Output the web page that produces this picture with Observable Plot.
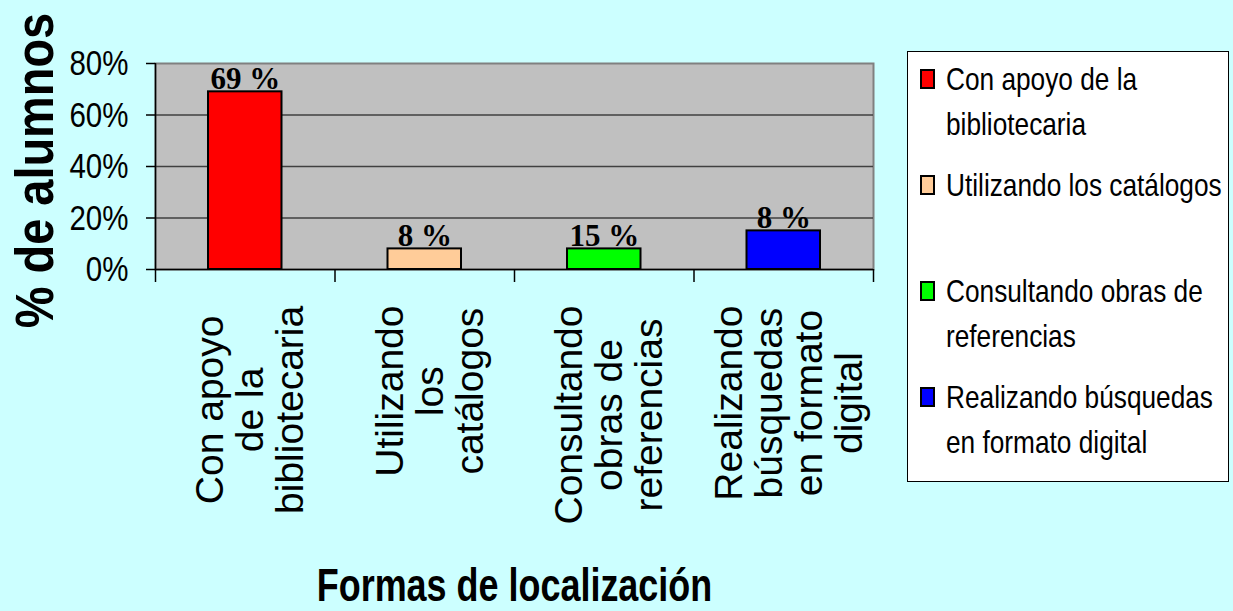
<!DOCTYPE html>
<html>
<head>
<meta charset="utf-8">
<script src="https://cdn.jsdelivr.net/npm/d3@7"></script>
<script src="https://cdn.jsdelivr.net/npm/@observablehq/plot@0.6"></script>
<style>
  html, body { margin: 0; padding: 0; background: #CCFFFF; color: #000; }
  #wrap { position: relative; width: 1233px; height: 611px; overflow: hidden; }
  #chart { position: absolute; left: 0; top: 0; }
  #legend {
    position: absolute; left: 907px; top: 51px; width: 322px; height: 431px;
    background: #fff; border: 1px solid #000; box-sizing: border-box; padding-top: 5px;
  }
  .entry {
    position: relative; height: 106px; padding-left: 38px; box-sizing: border-box;
    font-family: "Liberation Sans", Arial, sans-serif;
    font-size: 32px; line-height: 45px; color: #000; width: 320px; white-space: nowrap;
  }
  .entry .txt {
    display: inline-block; width: 345px; white-space: normal;
    transform: scaleX(0.82); transform-origin: 0 0;
  }
  .sw { position: absolute; left: 12px; top: 12px; width: 11px; height: 16px; border: 2px solid #000; }
</style>
</head>
<body>
<div id="wrap">
  <div id="chart"></div>
  <div id="legend"></div>
</div>
<script>
const categories = [
  "Con apoyo de la bibliotecaria",
  "Utilizando los catálogos",
  "Consultando obras de referencias",
  "Realizando búsquedas en formato digital"
];
const axisLabels = [
  "Con apoyo\nde la\nbibliotecaria",
  "Utilizando\nlos\ncatálogos",
  "Consultando\nobras de\nreferencias",
  "Realizando\nbúsquedas\nen formato\ndigital"
];
const values = [69, 8, 8, 15];
const valueLabels = ["69 %", "8 %", "15 %", "8 %"];
const colors = ["#FF0000", "#FFCC99", "#00FF00", "#0000FF"];
const yTicks = [0, 20, 40, 60, 80];
const yTitle = "% de alumnos";
const xTitle = "Formas de localización";

const data = categories.map((c, i) => ({
  i, cat: c, label: axisLabels[i], value: values[i], text: valueLabels[i], color: colors[i]
}));

const sans = "'Liberation Sans', Arial, sans-serif";

const chart = Plot.plot({
  width: 900,
  height: 611,
  marginLeft: 155,
  marginRight: 27,
  marginTop: 63,
  marginBottom: 342,
  style: { background: "transparent", overflow: "visible", color: "#000" },
  x: { type: "linear", domain: [0, categories.length], axis: null },
  y: { domain: [0, 80], axis: null },
  marks: [
    Plot.frame({ fill: "#C0C0C0", stroke: "#808080", strokeWidth: 2 }),
    Plot.ruleY(yTicks.slice(1, -1), { stroke: "#404040", strokeWidth: 1.5 }),
    Plot.rectY(data, {
      x1: "i", x2: d => d.i + 1, y: "value",
      insetLeft: 53, insetRight: 53,
      fill: "color", stroke: "#000", strokeWidth: 2
    }),
    Plot.ruleY([0], { stroke: "#000", strokeWidth: 1.5 }),
    Plot.ruleX([0], { stroke: "#000", strokeWidth: 1.5 }),
    Plot.axisY(yTicks, {
      tickSize: 9, tickPadding: 18, tickFormat: d => d + "%",
      fontSize: 36, fontFamily: sans, label: null, stroke: "#000", strokeWidth: 1.5,
      className: "ytick"
    }),
    Plot.axisX(d3.range(categories.length + 1), {
      tickSize: 13, tickFormat: () => "", label: null, stroke: "#000", strokeWidth: 1.5
    }),
    Plot.text(data, {
      x: d => d.i + 0.5, y: "value", text: "text", dy: -3, lineAnchor: "bottom",
      fontFamily: "'Liberation Serif', 'Times New Roman', serif", fontWeight: "bold", fontSize: 31, fill: "#000"
    }),
    Plot.text(data, {
      x: d => d.i + 0.5, frameAnchor: "bottom", text: "label", rotate: -90,
      textAnchor: "middle", lineAnchor: "middle", lineHeight: 40 / 39,
      fontSize: 39, fontFamily: sans, dx: 5, fill: "#000", className: "catlab"
    }),
    Plot.text([yTitle], {
      text: d => d, frameAnchor: "left", dx: -103, dy: 4, rotate: -90,
      textAnchor: "middle", lineAnchor: "bottom",
      fontSize: 53, fontWeight: "bold", fontFamily: sans, fill: "#000", className: "ytitle"
    }),
    Plot.text([xTitle], {
      text: d => d, frameAnchor: "bottom", dy: 331, lineAnchor: "bottom",
      fontSize: 47, fontWeight: "bold", fontFamily: sans, fill: "#000", className: "xtitle"
    })
  ]
});
document.getElementById("chart").appendChild(chart);

// Top-align rotated category label blocks (Excel style), lines centred within each block
const y0 = chart.scale("y").apply(0);
chart.querySelectorAll("g.catlab text").forEach(t => {
  const bb = t.getBBox();
  const m = /translate\(([^,]+),([^)]+)\)/.exec(t.getAttribute("transform"));
  if (!m) return;
  const tx = +m[1];
  const ty = y0 + 36 + bb.x + bb.width;
  t.setAttribute("transform", `translate(${tx},${ty}) rotate(-90)`);
});

// Condense text to mimic the proportions of the original
function condense(t, s) {
  const bb = t.getBBox();
  const anchor = getComputedStyle(t).textAnchor;
  const ax = anchor === "end" ? bb.x + bb.width : anchor === "middle" ? bb.x + bb.width / 2 : bb.x;
  const prev = t.getAttribute("transform") || "";
  t.setAttribute("transform", `${prev} translate(${ax},0) scale(${s},1) translate(${-ax},0)`);
}
chart.querySelectorAll("g.ytick text").forEach(t => condense(t, 0.82));
chart.querySelectorAll("g.xtitle text").forEach(t => condense(t, 0.765));
chart.querySelectorAll("g.ytitle text").forEach(t => condense(t, 0.885));

// Legend
const legend = document.getElementById("legend");
categories.forEach((c, i) => {
  const e = document.createElement("div");
  e.className = "entry";
  const s = document.createElement("span");
  s.className = "sw";
  s.style.background = colors[i];
  const txt = document.createElement("span");
  txt.className = "txt";
  txt.textContent = c;
  e.appendChild(s);
  e.appendChild(txt);
  legend.appendChild(e);
});
</script>
</body>
</html>
